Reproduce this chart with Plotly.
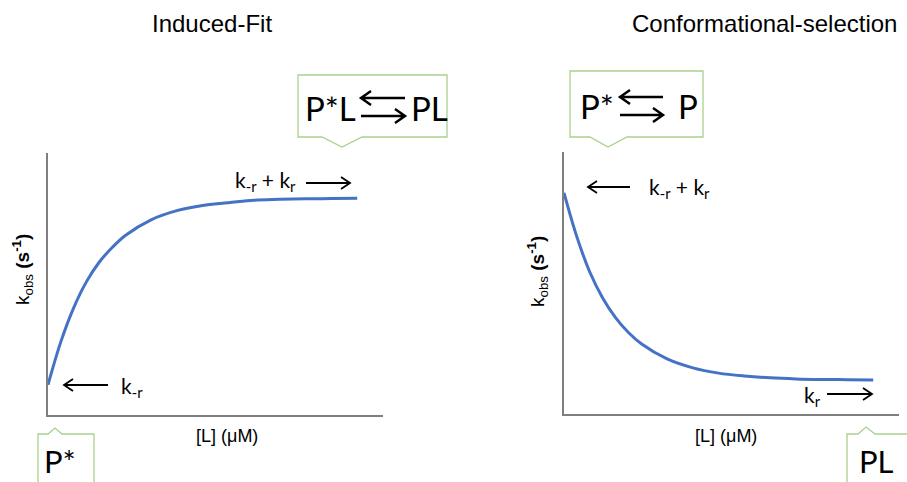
import plotly.graph_objects as go

W, H = 907, 482

# [L] positions (arbitrary units) and observed rate constants
ligand = [0, 0.5, 1, 1.5, 2, 2.5, 3, 4, 5, 6, 7, 8, 9, 10, 11, 12]
kobs_induced_fit = [1.15, 2.8, 4.1, 5.1, 5.85, 6.4, 6.85, 7.45, 7.8, 8.0, 8.1,
                    8.2, 8.23, 8.25, 8.26, 8.27]
kobs_conf_selection = [8.44, 6.76, 5.42, 4.43, 3.68, 3.11, 2.68, 2.1, 1.76, 1.56,
                       1.45, 1.38, 1.34, 1.32, 1.31, 1.3]

titles = ["Induced-Fit", "Conformational-selection"]
x_label = "[L] (μM)"
y_label = "k<sub>obs</sub> <b>(s<sup>-1</sup>)</b>"

CURVE = "#4472C4"
AXIS = "#7F7F7F"
GREEN = "#A9D18E"
LABEL_FONT = "Liberation Sans, Arial, sans-serif"
CALLOUT_FONT = "Lato, Open Sans, sans-serif"


def fx(x):
    return x / W


def fy(y):
    return 1 - y / H


fig = go.Figure()
fig.add_trace(go.Scatter(x=ligand, y=kobs_induced_fit, mode="lines",
                         line=dict(color=CURVE, width=3, shape="spline"),
                         xaxis="x", yaxis="y", hoverinfo="skip"))
fig.add_trace(go.Scatter(x=ligand, y=kobs_conf_selection, mode="lines",
                         line=dict(color=CURVE, width=3, shape="spline"),
                         xaxis="x2", yaxis="y2", hoverinfo="skip"))

axis_style = dict(showline=True, linecolor=AXIS, linewidth=2, showgrid=False,
                  zeroline=False, showticklabels=False, ticks="", fixedrange=True)

fig.update_layout(
    width=W, height=H, margin=dict(l=0, r=0, t=0, b=0),
    paper_bgcolor="white", plot_bgcolor="white", showlegend=False,
    xaxis=dict(domain=[fx(48), fx(383)], range=[0, 13], anchor="y", **axis_style),
    yaxis=dict(domain=[fy(415), fy(153)], range=[0, 10], anchor="x", **axis_style),
    xaxis2=dict(domain=[fx(564), fx(899)], range=[0, 13], anchor="y2", **axis_style),
    yaxis2=dict(domain=[fy(414), fy(152)], range=[0, 10], anchor="x2", **axis_style),
)

shapes = []
annotations = []


def text(x, y, s, size, xanchor="center", yanchor="middle", font=LABEL_FONT, angle=0):
    annotations.append(dict(x=fx(x), y=fy(y), xref="paper", yref="paper", text=s,
                            showarrow=False, xanchor=xanchor, yanchor=yanchor,
                            textangle=angle,
                            font=dict(family=font, size=size, color="black")))


def arrow(x0, x1, y, width=1.8, head=9, half=6):
    # straight arrow from x0 to x1 with an open chevron head at x1
    d = 1 if x1 > x0 else -1
    path = (f"M {fx(x0)},{fy(y)} L {fx(x1)},{fy(y)} "
            f"M {fx(x1 - d * head)},{fy(y - half)} L {fx(x1)},{fy(y)} "
            f"L {fx(x1 - d * head)},{fy(y + half)}")
    shapes.append(dict(type="path", xref="paper", yref="paper", path=path,
                       line=dict(color="black", width=width)))


def callout_down(left, right, top, bottom, p0, p1, apex):
    path = (f"M {fx(left)},{fy(top)} L {fx(right)},{fy(top)} L {fx(right)},{fy(bottom)} "
            f"L {fx(p1)},{fy(bottom)} L {fx(apex[0])},{fy(apex[1])} L {fx(p0)},{fy(bottom)} "
            f"L {fx(left)},{fy(bottom)} Z")
    shapes.append(dict(type="path", xref="paper", yref="paper", path=path,
                       fillcolor="white", line=dict(color=GREEN, width=1.3)))


def callout_up(left, right, top, bottom, p0, p1, apex):
    path = (f"M {fx(left)},{fy(bottom)} L {fx(left)},{fy(top)} L {fx(p0)},{fy(top)} "
            f"L {fx(apex[0])},{fy(apex[1])} L {fx(p1)},{fy(top)} L {fx(right)},{fy(top)} "
            f"L {fx(right)},{fy(bottom)}")
    shapes.append(dict(type="path", xref="paper", yref="paper", path=path,
                       fillcolor="white", line=dict(color=GREEN, width=1.3)))


# panel titles
text(212, 23, titles[0], 24)
text(764, 23, titles[1], 24)

# axis titles
text(227, 436, x_label, 18)
text(726, 436, x_label, 18)
text(22, 270, y_label, 19, angle=-90)
text(537, 272, y_label, 19, angle=-90)

# rate-limit annotations, induced fit
arrow(108, 64, 385)
text(119, 387, "k<sub>-r</sub>", 21, xanchor="left", font=CALLOUT_FONT)
text(298, 181, "k<sub>-r</sub> + k<sub>r</sub>", 21, xanchor="right", font=CALLOUT_FONT)
arrow(306, 350, 183)

# rate-limit annotations, conformational selection
arrow(630, 588, 187)
text(647, 188, "k<sub>-r</sub> + k<sub>r</sub>", 21, xanchor="left", font=CALLOUT_FONT)
text(823, 396, "k<sub>r</sub>", 21, xanchor="right", font=CALLOUT_FONT)
arrow(827, 872, 394)

# state callouts
callout_down(298, 447, 75, 137, 322, 362, (342, 147))
text(358, 108, "P*L", 33, xanchor="right", font=CALLOUT_FONT)
arrow(405, 361, 98, width=2.5, head=10, half=7)
arrow(361, 405, 116, width=2.5, head=10, half=7)
text(409, 108, "PL", 33, xanchor="left", font=CALLOUT_FONT)

callout_down(570, 703, 71, 137, 590, 627, (608, 147))
text(616, 106, "P*", 33, xanchor="right", font=CALLOUT_FONT)
arrow(663, 620, 97, width=2.5, head=10, half=7)
arrow(620, 663, 115, width=2.5, head=10, half=7)
text(676, 106, "P", 33, xanchor="left", font=CALLOUT_FONT)

callout_up(38, 94, 434, 500, 48, 62, (55, 428))
text(42, 461, "P*", 31, xanchor="left", font=CALLOUT_FONT)

callout_up(847, 930, 434, 500, 858, 875, (866, 427))
text(857, 461, "PL", 31, xanchor="left", font=CALLOUT_FONT)

fig.update_layout(shapes=shapes, annotations=annotations)
fig.write_html("out.html")
